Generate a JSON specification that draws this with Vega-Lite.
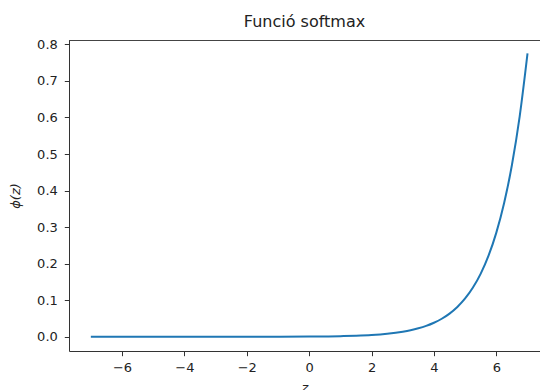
{
  "$schema": "https://vega.github.io/schema/vega-lite/v6.json",
  "autosize": {"type": "none"},
  "padding": {"left": 69, "top": 40, "right": 0, "bottom": 39},
  "width": 471,
  "height": 311,
  "background": "white",
  "config": {
    "view": {"stroke": null},
    "font": "DejaVu Sans",
    "axis": {
      "domainColor": "#333",
      "domainWidth": 1,
      "tickColor": "#333",
      "tickWidth": 1,
      "tickSize": 4.7,
      "labelFont": "DejaVu Sans",
      "labelFontSize": 13,
      "labelColor": "#222",
      "titleFont": "DejaVu Sans",
      "titleFontSize": 13,
      "titleFontWeight": "normal",
      "titleFontStyle": "italic",
      "titleColor": "#222",
      "grid": false,
      "labelFlush": false,
      "labelOverlap": false
    }
  },
  "title": {
    "text": "Funció softmax",
    "font": "DejaVu Sans",
    "fontSize": 16,
    "fontWeight": "normal",
    "color": "#222",
    "anchor": "middle",
    "offset": 8
  },
  "data": {
    "values": [
      {"z": -7, "phi": 0.0},
      {"z": -4, "phi": 0.0},
      {"z": -2, "phi": 0.0001},
      {"z": -1, "phi": 0.0003},
      {"z": 0, "phi": 0.0007},
      {"z": 1, "phi": 0.0019},
      {"z": 1.5, "phi": 0.0032},
      {"z": 2, "phi": 0.0052},
      {"z": 2.5, "phi": 0.0086},
      {"z": 3, "phi": 0.0142},
      {"z": 3.25, "phi": 0.0182},
      {"z": 3.5, "phi": 0.0234},
      {"z": 3.75, "phi": 0.0300},
      {"z": 4, "phi": 0.0386},
      {"z": 4.25, "phi": 0.0495},
      {"z": 4.5, "phi": 0.0636},
      {"z": 4.75, "phi": 0.0817},
      {"z": 5, "phi": 0.1049},
      {"z": 5.25, "phi": 0.1347},
      {"z": 5.5, "phi": 0.1729},
      {"z": 5.75, "phi": 0.2220},
      {"z": 6, "phi": 0.2851},
      {"z": 6.25, "phi": 0.3661},
      {"z": 6.5, "phi": 0.4701},
      {"z": 6.75, "phi": 0.6036},
      {"z": 7, "phi": 0.775}
    ]
  },
  "layer": [
    {
      "mark": {"type": "line", "color": "#1f77b4", "strokeWidth": 2, "interpolate": "monotone", "clip": true},
      "encoding": {
        "x": {
          "field": "z",
          "type": "quantitative",
          "scale": {"domain": [-7.7, 7.4], "nice": false, "zero": false},
          "axis": {
            "values": [-6, -4, -2, 0, 2, 4, 6],
            "format": "d",
            "labelPadding": 6,
            "labelOverlap": false,
            "title": "z",
            "titlePadding": 7
          }
        },
        "y": {
          "field": "phi",
          "type": "quantitative",
          "scale": {"domain": [-0.0387, 0.8118], "nice": false, "zero": false},
          "axis": {
            "values": [0, 0.1, 0.2, 0.3, 0.4, 0.5, 0.6, 0.7, 0.8],
            "format": ".1f",
            "labelPadding": 7,
            "labelOverlap": false,
            "tickCount": 9,
            "title": "ϕ(z)",
            "titleX": -54,
            "titleY": 155.5,
            "titleAngle": -90,
            "titleAlign": "center",
            "titleBaseline": "middle"
          }
        }
      }
    },
    {
      "mark": {"type": "rule", "color": "#444", "strokeWidth": 1, "yOffset": 0.5},
      "encoding": {"y": {"datum": 0.8118}}
    }
  ]
}
